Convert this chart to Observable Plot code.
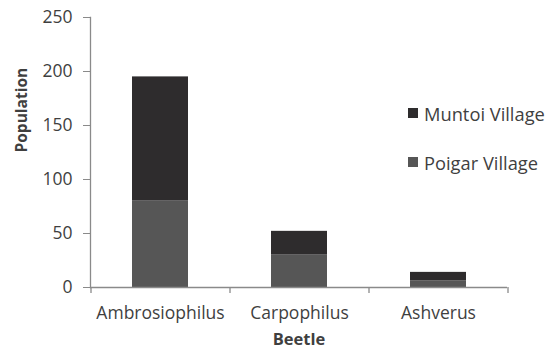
<!DOCTYPE html>
<html>
<head>
<meta charset="utf-8">
<script src="https://cdn.jsdelivr.net/npm/d3@7"></script>
<script src="https://cdn.jsdelivr.net/npm/@observablehq/plot@0.6"></script>
<style>
  html, body { margin: 0; padding: 0; background: #fff; }
  #wrap { position: relative; width: 547px; height: 350px; font-family: "Open Sans", sans-serif; }
  #legend { position: absolute; left: 408px; top: 100px; font-size: 18.3px; color: #3f3f3f; }
  #legend .row { display: flex; align-items: center; height: 26px; margin-bottom: 23px; white-space: nowrap; }
  #legend .sw { width: 10px; height: 10px; margin-right: 6px; }
  svg text { fill: #3f3f3f; }
</style>
</head>
<body>
<div id="wrap"><div id="legend"></div></div>
<script>
const beetles = ["Ambrosiophilus", "Carpophilus", "Ashverus"];
const series = ["Poigar Village", "Muntoi Village"];
const poigar = [80, 30, 6];
const muntoi = [115, 22, 8];
const colors = ["#565656", "#2e2c2d"];
const yTicks = [0, 50, 100, 150, 200, 250];

const data = [];
beetles.forEach((b, i) => {
  data.push({beetle: b, village: series[0], value: poigar[i]});
  data.push({beetle: b, village: series[1], value: muntoi[i]});
});

const width = 547, height = 350;
const marginLeft = 90, marginRight = 40, marginTop = 17, marginBottom = 63;
const step = (width - marginLeft - marginRight) / beetles.length;
const axisColor = "#8a8a8a";

const chart = Plot.plot({
  width, height, marginLeft, marginRight, marginTop, marginBottom,
  style: {fontFamily: "'Open Sans', sans-serif", fontSize: "17.5px", color: "#3f3f3f", background: "#fff"},
  x: {domain: beetles, paddingInner: 0.6, paddingOuter: 0.3, align: 0.5},
  y: {domain: [0, 250]},
  color: {domain: series, range: colors},
  marks: [
    Plot.barY(data, {x: "beetle", y: "value", fill: "village", order: series}),
    Plot.axisY({ticks: yTicks, tickSize: 7, tickPadding: 11, stroke: axisColor, label: null, fontSize: 17.5}),
    Plot.axisX({tickSize: 0, tickPadding: 19, label: null, fontSize: 17.5}),
    Plot.frame({anchor: "left", stroke: axisColor, strokeWidth: 1.3}),
    Plot.ruleY([0], {stroke: axisColor, strokeWidth: 1.3}),
    Plot.ruleX(beetles, {x: d => d, dx: -step / 2, y1: 0, y2: 0, insetBottom: -6, stroke: axisColor, strokeWidth: 1.3}),
    Plot.ruleX(beetles.slice(-1), {x: d => d, dx: step / 2, y1: 0, y2: 0, insetBottom: -6, stroke: axisColor, strokeWidth: 1.3}),
    Plot.text(["Population"], {frameAnchor: "left", dx: -68, rotate: -90, fontWeight: "bold", fontSize: 15.5, fill: "#222"}),
    Plot.text(["Beetle"], {frameAnchor: "bottom", dy: 57, fontWeight: "bold", fontSize: 16.5, fill: "#222"})
  ]
});
document.getElementById("wrap").prepend(chart);

const legend = document.getElementById("legend");
[series[1], series[0]].forEach(s => {
  const row = document.createElement("div");
  row.className = "row";
  const sw = document.createElement("div");
  sw.className = "sw";
  sw.style.background = colors[series.indexOf(s)];
  const t = document.createElement("span");
  t.textContent = s;
  row.append(sw, t);
  legend.append(row);
});
</script>
</body>
</html>
